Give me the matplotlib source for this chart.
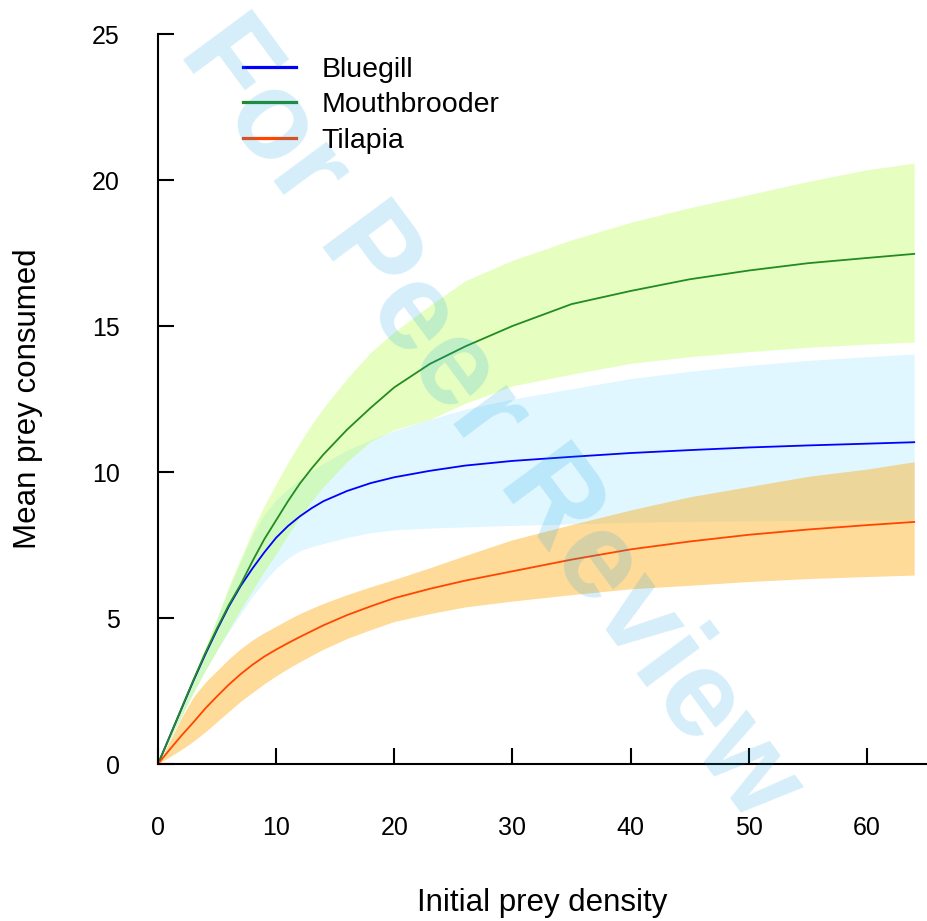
import matplotlib
matplotlib.use("Agg")
import matplotlib.pyplot as plt
from matplotlib.lines import Line2D

plt.rcParams['font.family'] = ['Liberation Sans', 'DejaVu Sans']

# ---------------- data ----------------
density = [0, 1, 2, 3, 4, 5, 6, 7, 8, 9, 10, 11, 12, 13, 14, 16, 18, 20, 23,
           26, 30, 35, 40, 45, 50, 55, 60, 64]

bluegill_mean = [0, 0.95, 1.9, 2.85, 3.75, 4.6, 5.4, 6.1, 6.7, 7.25, 7.75,
                 8.15, 8.48, 8.76, 9.0, 9.35, 9.62, 9.82, 10.04, 10.22, 10.38,
                 10.52, 10.65, 10.75, 10.84, 10.91, 10.97, 11.02]
bluegill_low = [0, 0.85, 1.65, 2.45, 3.2, 3.9, 4.55, 5.15, 5.75, 6.25, 6.7,
                7.05, 7.3, 7.44, 7.55, 7.76, 7.92, 8.02, 8.08, 8.12, 8.17,
                8.22, 8.28, 8.31, 8.33, 8.34, 8.35, 8.36]
bluegill_high = [0, 0.98, 1.97, 2.95, 3.9, 5.0, 6.0, 6.95, 7.85, 8.55, 9.05,
                 9.42, 9.75, 10.05, 10.3, 10.75, 11.1, 11.42, 11.8, 12.15,
                 12.5, 12.85, 13.2, 13.45, 13.65, 13.82, 13.95, 14.04]

mouth_mean = [0, 0.95, 1.92, 2.88, 3.8, 4.65, 5.45, 6.15, 6.95, 7.7, 8.35,
              9.0, 9.6, 10.12, 10.6, 11.45, 12.2, 12.9, 13.7, 14.3, 15.0,
              15.75, 16.2, 16.6, 16.9, 17.15, 17.33, 17.47]
mouth_low = [0, 0.85, 1.65, 2.45, 3.2, 3.9, 4.6, 5.3, 5.95, 6.6, 7.2, 7.85,
             8.45, 9.0, 9.5, 10.35, 11.05, 11.45, 11.8, 12.35, 12.95, 13.35,
             13.72, 13.95, 14.12, 14.27, 14.38, 14.45]
mouth_high = [0, 1.0, 2.0, 3.0, 4.0, 5.0, 6.1, 7.05, 8.0, 8.85, 9.6, 10.33,
              11.0, 11.62, 12.2, 13.2, 14.1, 14.8, 15.7, 16.55, 17.25, 17.95,
              18.55, 19.05, 19.5, 19.95, 20.35, 20.58]

tilapia_mean = [0, 0.5, 0.98, 1.43, 1.9, 2.32, 2.72, 3.08, 3.4, 3.68, 3.92,
                4.14, 4.35, 4.55, 4.75, 5.1, 5.4, 5.68, 6.0, 6.28, 6.6, 7.0,
                7.35, 7.62, 7.85, 8.03, 8.18, 8.29]
tilapia_low = [0, 0.25, 0.5, 0.78, 1.1, 1.45, 1.8, 2.15, 2.45, 2.75, 3.02,
               3.27, 3.5, 3.72, 3.93, 4.3, 4.6, 4.88, 5.15, 5.38, 5.58, 5.8,
               6.0, 6.12, 6.25, 6.35, 6.42, 6.47]
tilapia_high = [0, 0.8, 1.6, 2.3, 2.8, 3.2, 3.6, 3.95, 4.25, 4.5, 4.72, 4.94,
                5.15, 5.33, 5.5, 5.8, 6.07, 6.32, 6.72, 7.14, 7.68, 8.2, 8.7,
                9.15, 9.5, 9.85, 10.1, 10.35]

species = ['Bluegill', 'Mouthbrooder', 'Tilapia']
x_ticks = [0, 10, 20, 30, 40, 50, 60]
y_ticks = [0, 5, 10, 15, 20, 25]

# ---------------- figure ----------------
W, H = 928, 921
fig = plt.figure(figsize=(W / 100, H / 100), dpi=100)
ax = fig.add_axes([158 / W, (H - 764) / H, 768 / W, 730 / H])

ax.fill_between(density, bluegill_low, bluegill_high, color='#00BFFF',
                alpha=0.12, linewidth=0)
ax.fill_between(density, mouth_low, mouth_high, color='#ADFF2F',
                alpha=0.30, linewidth=0)
ax.fill_between(density, tilapia_low, tilapia_high, color='#FFA500',
                alpha=0.40, linewidth=0)

ax.plot(density, bluegill_mean, color='#0000FF', lw=1.3)
ax.plot(density, mouth_mean, color='#228B22', lw=1.3)
ax.plot(density, tilapia_mean, color='#FF4500', lw=1.3)

ax.set_xlim(0, 65)
ax.set_ylim(0, 25)
ax.set_xticks(x_ticks)
ax.set_yticks(y_ticks)
ax.set_xticklabels([str(v) for v in x_ticks])
ax.set_yticklabels([str(v) for v in y_ticks])

for s in ['top', 'right']:
    ax.spines[s].set_visible(False)
for s in ['left', 'bottom']:
    ax.spines[s].set_linewidth(1.5)
ax.tick_params(axis='both', direction='in', length=11.5, width=1.5,
               labelsize=18)
ax.tick_params(axis='x', pad=37.5)
ax.tick_params(axis='y', pad=27.5)

ax.set_xlabel('Initial prey density', fontsize=22.5)
ax.set_ylabel('Mean prey consumed', fontsize=22.5)
ax.xaxis.set_label_coords(0.5, -0.170)
ax.yaxis.set_label_coords(-0.15, 0.5)

handles = [Line2D([], [], color='#0000FF', lw=2.3),
           Line2D([], [], color='#228B22', lw=2.3),
           Line2D([], [], color='#FF4500', lw=2.3)]
ax.legend(handles, species, loc='upper left',
          bbox_to_anchor=(85 / 768, (764 - 57) / 730), frameon=False,
          fontsize=20.5, handlelength=1.86, handletextpad=0.9,
          labelspacing=0.33, borderpad=0, borderaxespad=0)

# watermark
fig.text(490 / W, 1 - 420 / H, 'For Peer Review', fontsize=89,
         fontweight='bold', color=(0.0, 0.6, 0.9), alpha=0.17,
         rotation=-53.5, ha='center', va='center', rotation_mode='anchor',
         zorder=10)

fig.savefig('out.png', dpi=100)
